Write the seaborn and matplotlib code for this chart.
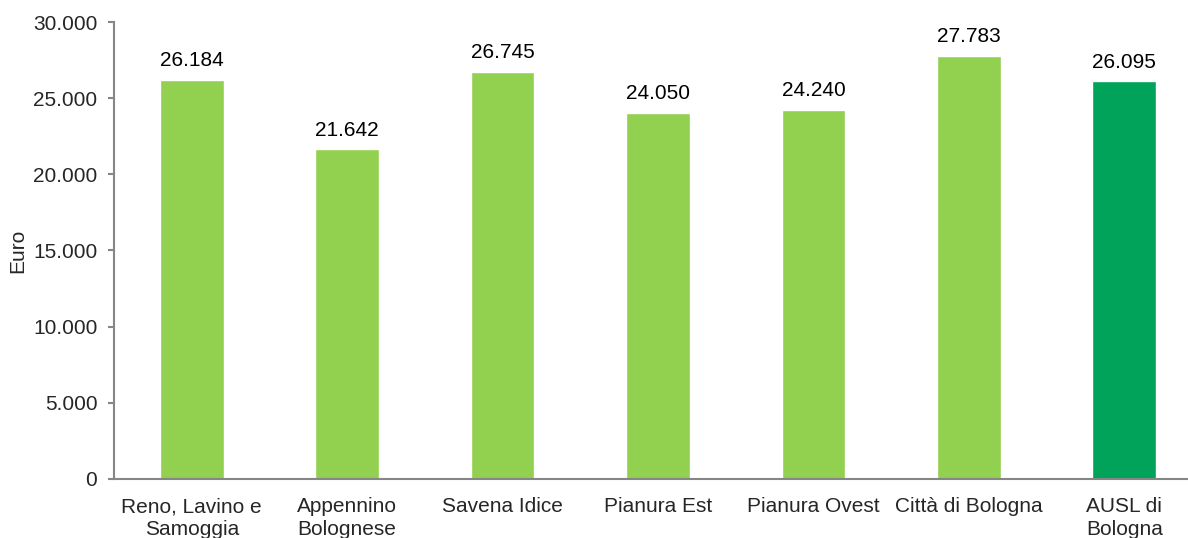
import matplotlib
matplotlib.use("Agg")
import matplotlib.pyplot as plt
import matplotlib.ticker as mticker
import seaborn as sns
import pandas as pd

# Dati
distretti = ["Reno, Lavino e\nSamoggia", "Appennino\nBolognese", "Savena Idice",
             "Pianura Est", "Pianura Ovest", "Città di Bologna", "AUSL di\nBologna"]
valori = [26184, 21642, 26745, 24050, 24240, 27783, 26095]
colori = ["#92D050"] * 6 + ["#00A359"]

df = pd.DataFrame({"distretto": distretti, "euro": valori})


def fmt_it(v, pos=None):
    return f"{int(round(v)):,}".replace(",", ".")


sns.set_style("white")
plt.rcParams["font.family"] = ["Liberation Sans", "DejaVu Sans"]

fig = plt.figure(figsize=(11.88, 5.38), dpi=100)
ax = fig.add_axes([114 / 1188, 1 - 479 / 538, 1 - 114 / 1188, (479 - 22) / 538])

sns.barplot(data=df, x="distretto", y="euro", hue="distretto", palette=colori,
            legend=False, width=0.41, saturation=1, ax=ax)

for cont in ax.containers:
    ax.bar_label(cont, labels=[fmt_it(b.get_height()) for b in cont],
                 padding=7, fontsize=15, color="black")

ax.set_ylim(0, 30000)
ax.set_xlim(-0.5, 6.41)
ax.yaxis.set_major_locator(mticker.MultipleLocator(5000))
ax.yaxis.set_major_formatter(mticker.FuncFormatter(fmt_it))

ax.set_xlabel("")
ax.set_ylabel("Euro", fontsize=15, labelpad=4)
ax.tick_params(axis="y", labelsize=15, length=4, width=1.5, color="#868686",
               direction="out", left=True, pad=8)
ax.tick_params(axis="x", labelsize=15, length=0, pad=13)
for lab in ax.get_xticklabels():
    lab.set_linespacing(1.25)

sns.despine(ax=ax, top=True, right=True)
for s in ["left", "bottom"]:
    ax.spines[s].set_color("#868686")
    ax.spines[s].set_linewidth(1.5)

fig.savefig("out.png", dpi=100)
